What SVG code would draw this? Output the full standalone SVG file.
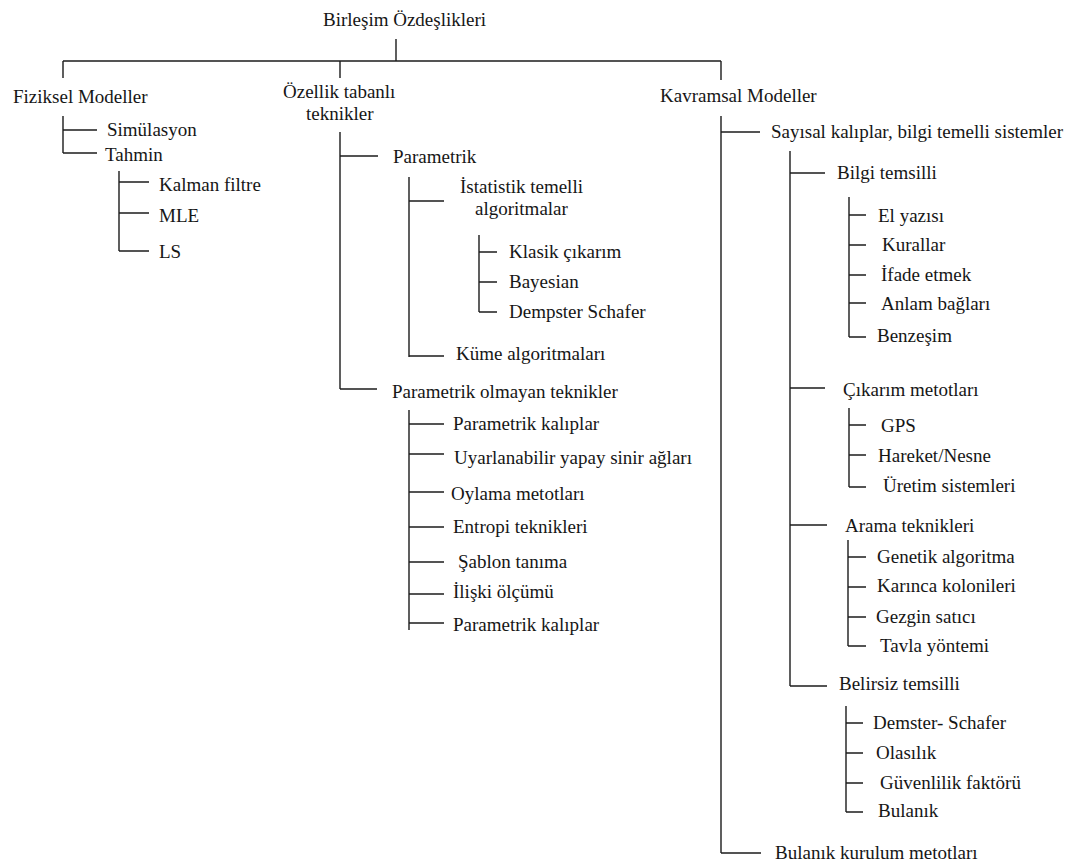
<svg xmlns="http://www.w3.org/2000/svg" width="1074" height="865" viewBox="0 0 1074 865">
  <style>
    .ln { fill: none; stroke: #1c1c1c; stroke-width: 1.4; stroke-linecap: butt; }
  </style>
  <rect width="1074" height="865" fill="#ffffff"/>

  <!-- tree connectors -->
  <g id="connectors">
    <!-- root to the three main branches -->
    <path class="ln" d="M396 39V61M63 61H721M63 61V78M340 61V78M721 61V80"/>
    <!-- Fiziksel Modeller -->
    <path class="ln" d="M63 116V153M63 130H97M63 153H97"/>
    <!-- Tahmin -->
    <path class="ln" d="M119 171V251M119 182H149M119 213H149M119 251H149"/>
    <!-- Özellik tabanlı teknikler -->
    <path class="ln" d="M340 132V389M340 156H378M340 389H377"/>
    <!-- Parametrik -->
    <path class="ln" d="M409 177V357M409 201H444M409 356H444"/>
    <!-- İstatistik temelli algoritmalar -->
    <path class="ln" d="M479 235V312M479 252H497M479 282H497M479 312H497"/>
    <!-- Parametrik olmayan teknikler -->
    <path class="ln" d="M409 410V630M409 424H444M409 454H444M409 492H444M409 527H444M409 562H444M409 594H444M409 623H444"/>
    <!-- Kavramsal Modeller -->
    <path class="ln" d="M721 116V853M721 132H760M721 853H761"/>
    <!-- Sayısal kalıplar, bilgi temelli sistemler -->
    <path class="ln" d="M790 151V686M790 173H825M790 388H825M790 525H827M790 686H827"/>
    <!-- Bilgi temsilli -->
    <path class="ln" d="M849 197V337M849 215H866M849 245H866M849 275H866M849 303H866M849 337H866"/>
    <!-- Çıkarım metotları -->
    <path class="ln" d="M849 408V487M849 425H866M849 455H866M849 487H866"/>
    <!-- Arama teknikleri -->
    <path class="ln" d="M848 540V646M848 557H866M848 587H866M848 617H866M848 646H866"/>
    <!-- Belirsiz temsilli -->
    <path class="ln" d="M846 706V812M846 723H863M846 753H863M846 783H863M846 812H863"/>
  </g>

  <g id="labels" font-family="Liberation Serif" font-size="19" fill="#161616">
    <g id="root"><text x="323" y="26">Birleşim Özdeşlikleri</text></g>

    <!-- physical models -->
    <g id="fiziksel"><text x="13" y="103">Fiziksel Modeller</text></g>
    <g id="simulasyon"><text x="107" y="136">Simülasyon</text></g>
    <g id="tahmin"><text x="105" y="161">Tahmin</text></g>
    <g id="kalman"><text x="159" y="191">Kalman filtre</text></g>
    <g id="mle"><text x="159" y="222">MLE</text></g>
    <g id="ls"><text x="159" y="258">LS</text></g>

    <!-- feature based techniques -->
    <g id="ozellik"><text x="283" y="98">Özellik tabanlı</text><text x="306" y="120">teknikler</text></g>
    <g id="parametrik"><text x="393" y="163">Parametrik</text></g>
    <g id="istatistik"><text x="460" y="193">İstatistik temelli</text><text x="475" y="215">algoritmalar</text></g>
    <g id="klasik"><text x="509" y="258">Klasik çıkarım</text></g>
    <g id="bayesian"><text x="509" y="288">Bayesian</text></g>
    <g id="dempster"><text x="509" y="318">Dempster Schafer</text></g>
    <g id="kume"><text x="456" y="360">Küme algoritmaları</text></g>
    <g id="parametrik-olmayan"><text x="392" y="398">Parametrik olmayan teknikler</text></g>
    <g id="param-kaliplar-1"><text x="453" y="430">Parametrik kalıplar</text></g>
    <g id="yapay-sinir"><text x="454" y="464">Uyarlanabilir yapay sinir ağları</text></g>
    <g id="oylama"><text x="451" y="500">Oylama metotları</text></g>
    <g id="entropi"><text x="453" y="533">Entropi teknikleri</text></g>
    <g id="sablon"><text x="458" y="568">Şablon tanıma</text></g>
    <g id="iliski"><text x="453" y="598">İlişki ölçümü</text></g>
    <g id="param-kaliplar-2"><text x="453" y="631">Parametrik kalıplar</text></g>

    <!-- conceptual models -->
    <g id="kavramsal"><text x="660" y="102">Kavramsal Modeller</text></g>
    <g id="sayisal"><text x="771" y="138">Sayısal kalıplar, bilgi temelli sistemler</text></g>
    <g id="bilgi"><text x="837" y="179">Bilgi temsilli</text></g>
    <g id="el-yazisi"><text x="878" y="222">El yazısı</text></g>
    <g id="kurallar"><text x="882" y="251">Kurallar</text></g>
    <g id="ifade"><text x="881" y="281">İfade etmek</text></g>
    <g id="anlam"><text x="881" y="310">Anlam bağları</text></g>
    <g id="benzesim"><text x="877" y="342">Benzeşim</text></g>
    <g id="cikarim"><text x="843" y="396">Çıkarım metotları</text></g>
    <g id="gps"><text x="881" y="432">GPS</text></g>
    <g id="hareket"><text x="878" y="462">Hareket/Nesne</text></g>
    <g id="uretim"><text x="883" y="492">Üretim sistemleri</text></g>
    <g id="arama"><text x="845" y="532">Arama teknikleri</text></g>
    <g id="genetik"><text x="877" y="563">Genetik algoritma</text></g>
    <g id="karinca"><text x="877" y="592">Karınca kolonileri</text></g>
    <g id="gezgin"><text x="876" y="623">Gezgin satıcı</text></g>
    <g id="tavla"><text x="880" y="652">Tavla yöntemi</text></g>
    <g id="belirsiz"><text x="839" y="690">Belirsiz temsilli</text></g>
    <g id="demster"><text x="873" y="729">Demster- Schafer</text></g>
    <g id="olasilik"><text x="876" y="759">Olasılık</text></g>
    <g id="guvenlilik"><text x="880" y="789">Güvenlilik faktörü</text></g>
    <g id="bulanik"><text x="878" y="817">Bulanık</text></g>
    <g id="bulanik-kurulum"><text x="775" y="859">Bulanık kurulum metotları</text></g>
  </g>
</svg>
